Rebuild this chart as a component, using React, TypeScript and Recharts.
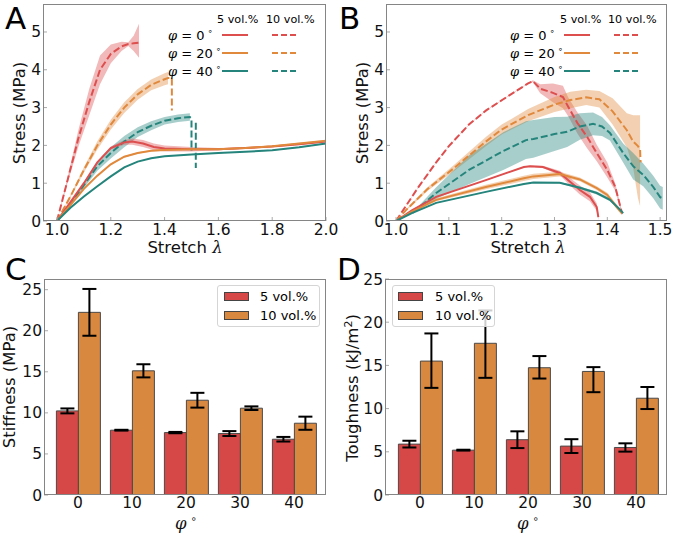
import React from "react";
import {
  ComposedChart,
  Line,
  Area,
  XAxis,
  YAxis,
  BarChart,
  Bar,
  ErrorBar,
} from "recharts";

const W = 673;
const H = 534;
const FONT = "'DejaVu Sans', sans-serif";

const RED = "#dd4f4f";
const ORANGE = "#e0893d";
const TEAL = "#25857c";
const BAR_RED = "#d64848";
const BAR_ORANGE = "#d9883f";

// [stretch, stress, band down, band up (optional)]
type Pt = [number, number | null, number | null, number?];

// panel A
const aRed5: Pt[] = [[1.0, 0, 0], [1.05, 0.5, 0.01], [1.1, 1.0, 0.02], [1.15, 1.55, 0.03], [1.2, 1.93, 0.04], [1.25, 2.08, 0.06], [1.28, 2.1, 0.08], [1.32, 2.05, 0.09], [1.36, 1.96, 0.09], [1.4, 1.92, 0.08], [1.5, 1.9, 0.06], [1.6, 1.9, 0.03], [1.7, 1.93, 0.02], [1.8, 1.97, 0.02], [1.9, 2.03, 0.02], [2.0, 2.1, 0.02]];
const aOrange5: Pt[] = [[1.0, 0, 0], [1.05, 0.42, 0.01], [1.1, 0.85, 0.01], [1.15, 1.2, 0.015], [1.2, 1.5, 0.02], [1.25, 1.7, 0.02], [1.3, 1.8, 0.02], [1.35, 1.86, 0.02], [1.4, 1.88, 0.02], [1.5, 1.9, 0.02], [1.6, 1.9, 0.02], [1.7, 1.93, 0.02], [1.8, 1.98, 0.02], [1.9, 2.05, 0.02], [2.0, 2.12, 0.02]];
const aTeal5: Pt[] = [[1.0, 0, 0], [1.05, 0.35, 0.01], [1.1, 0.65, 0.01], [1.15, 0.92, 0.01], [1.2, 1.18, 0.01], [1.25, 1.42, 0.01], [1.3, 1.57, 0.01], [1.35, 1.66, 0.01], [1.4, 1.71, 0.01], [1.5, 1.76, 0.01], [1.6, 1.8, 0.01], [1.7, 1.83, 0.01], [1.8, 1.87, 0.01], [1.9, 1.95, 0.01], [2.0, 2.05, 0.01]];
const aRed10: Pt[] = [[1.0, 0, 0], [1.04, 1.1, 0.08], [1.08, 2.2, 0.22], [1.12, 3.15, 0.35], [1.16, 4.0, 0.38], [1.2, 4.42, 0.25], [1.24, 4.62, 0.12], [1.265, 4.68, 0.05], [1.285, 4.7, 0.2], [1.305, 4.72, 0.4, 0.5]];
const aOrange10: Pt[] = [[1.0, 0, 0], [1.05, 0.65, 0.03], [1.1, 1.35, 0.07], [1.15, 2.0, 0.11], [1.2, 2.55, 0.13], [1.25, 3.0, 0.14], [1.3, 3.35, 0.14], [1.35, 3.6, 0.14], [1.4, 3.75, 0.16], [1.413, 3.78, 0.16], [1.427, 3.78, null], [1.427, 2.92, null]];
const aTeal10: Pt[] = [[1.0, 0, 0], [1.05, 0.45, 0.04], [1.1, 0.95, 0.08], [1.15, 1.45, 0.12], [1.2, 1.8, 0.15], [1.25, 2.1, 0.15], [1.3, 2.35, 0.13], [1.35, 2.52, 0.12], [1.4, 2.65, 0.1], [1.45, 2.72, 0.1], [1.494, 2.75, 0.1], [1.5, 2.72, null], [1.5, 1.85, null], [1.508, null, null], [1.516, 2.6, null], [1.516, 1.4, null]];

// panel B
const bRed5: Pt[] = [[1.0, 0, 0], [1.03, 0.28, 0.01], [1.076, 0.64, 0.01], [1.17, 1.08, 0.01], [1.242, 1.43, 0.01], [1.254, 1.45, 0.02], [1.278, 1.43, 0.03], [1.31, 1.27, 0.06], [1.33, 1.03, 0.1], [1.348, 0.82, 0.12], [1.367, 0.64, 0.12], [1.38, 0.37, 0.1], [1.383, 0.1, 0.08]];
const bOrange5: Pt[] = [[1.0, 0, 0], [1.03, 0.25, 0.02], [1.076, 0.56, 0.04], [1.17, 0.9, 0.06], [1.242, 1.13, 0.07], [1.26, 1.18, 0.07], [1.31, 1.24, 0.06], [1.348, 1.1, 0.05], [1.38, 0.87, 0.05], [1.4, 0.69, 0.06], [1.418, 0.37, 0.06], [1.428, 0.2, 0.05]];
const bTeal5: Pt[] = [[1.0, 0, 0], [1.03, 0.21, 0.01], [1.076, 0.48, 0.01], [1.17, 0.77, 0.01], [1.242, 0.98, 0.01], [1.26, 1.02, 0.01], [1.31, 1.01, 0.02], [1.348, 0.88, 0.03], [1.38, 0.74, 0.04], [1.405, 0.56, 0.04], [1.424, 0.3, 0.03], [1.43, 0.21, 0.02]];
const bRed10: Pt[] = [[1.0, 0, 0], [1.04, 0.85, 0.01], [1.076, 1.55, 0.01], [1.1, 1.98, 0.01], [1.138, 2.55, 0.01], [1.17, 2.92, 0.01], [1.203, 3.22, 0.01], [1.23, 3.46, 0.01], [1.25, 3.64, 0.01], [1.259, 3.7, 0.02], [1.273, 3.5, 0.12], [1.297, 3.39, 0.25], [1.316, 3.28, 0.3], [1.326, 3.02, 0.25], [1.343, 2.6, 0.28], [1.362, 2.22, 0.3], [1.38, 1.8, 0.22], [1.4, 1.35, 0.2], [1.415, 0.9, 0.1], [1.428, 0.2, 0.05]];
const bOrange10: Pt[] = [[1.0, 0, 0], [1.019, 0.29, 0.02], [1.06, 0.85, 0.05], [1.108, 1.38, 0.08], [1.17, 2.1, 0.12], [1.2, 2.42, 0.13], [1.25, 2.8, 0.16], [1.3, 3.08, 0.2], [1.33, 3.2, 0.22], [1.36, 3.27, 0.2], [1.385, 3.22, 0.22], [1.41, 2.9, 0.35], [1.437, 2.4, 0.45], [1.449, 2.1, 0.7], [1.458, 1.98, 1.38, 0.82], [1.462, 1.9, 1.5, 0.9], [1.463, 1.55, null]];
const bTeal10: Pt[] = [[1.032, 0.22, 0.02], [1.076, 0.74, 0.15], [1.138, 1.35, 0.38], [1.203, 1.85, 0.5], [1.246, 2.14, 0.5], [1.26, 2.17, 0.5], [1.3, 2.3, 0.45], [1.324, 2.36, 0.4], [1.348, 2.5, 0.35], [1.373, 2.57, 0.3], [1.39, 2.5, 0.25], [1.405, 2.33, 0.2], [1.43, 1.8, 0.25], [1.449, 1.45, 0.35], [1.468, 1.22, 0.3], [1.487, 0.9, 0.3], [1.5, 0.63, 0.3], [1.505, 0.6, 0.3]];

// panels C, D
const phiCats = ["0", "10", "20", "30", "40"];
const stiff5 = [10.24, 7.89, 7.6, 7.48, 6.79];
const stiff5Err = [0.3, 0.05, 0.08, 0.3, 0.28];
const stiff10 = [22.24, 15.12, 11.54, 10.57, 8.74];
const stiff10Err = [2.85, 0.8, 0.9, 0.22, 0.8];
const tough5 = [5.89, 5.19, 6.4, 5.66, 5.5];
const tough5Err = [0.39, 0.05, 0.97, 0.8, 0.48];
const tough10 = [15.5, 17.56, 14.73, 14.3, 11.2];
const tough10Err: [number, number][] = [[3.1, 3.2], [4.0, 3.8], [1.25, 1.35], [2.4, 0.5], [1.25, 1.3]];

const toLine = (pts: Pt[]) => pts.map(([x, y]) => ({ x, y }));
const toBand = (pts: Pt[]) =>
  pts
    .filter((p) => p[1] != null && p[2] != null)
    .map(([x, y, lo, hi]) => ({ x, band: [(y as number) - (lo as number), (y as number) + (hi ?? (lo as number))] }));

const tickStyle = { fill: "#111", fontSize: 15.5, fontFamily: FONT };
const tickLine = { stroke: "#aaa" };

type Series = { pts: Pt[]; color: string; dashed?: boolean };

const seriesA: Series[] = [
  { pts: aRed10, color: RED, dashed: true },
  { pts: aOrange10, color: ORANGE, dashed: true },
  { pts: aTeal10, color: TEAL, dashed: true },
  { pts: aRed5, color: RED },
  { pts: aOrange5, color: ORANGE },
  { pts: aTeal5, color: TEAL },
];
const seriesB: Series[] = [
  { pts: bRed10, color: RED, dashed: true },
  { pts: bOrange10, color: ORANGE, dashed: true },
  { pts: bTeal10, color: TEAL, dashed: true },
  { pts: bRed5, color: RED },
  { pts: bOrange5, color: ORANGE },
  { pts: bTeal5, color: TEAL },
];

const Txt = ({ x, y, size = 16.5, rotate = false, children }: any) => (
  <div
    style={{
      position: "absolute",
      left: x,
      top: y,
      transform: `translate(-50%, -50%)${rotate ? " rotate(-90deg)" : ""}`,
      fontSize: size,
      fontFamily: FONT,
      whiteSpace: "nowrap",
      lineHeight: 1,
      color: "#111",
    }}
  >
    {children}
  </div>
);

const Frame = ({ box }: { box: number[] }) => (
  <div
    style={{
      position: "absolute",
      left: box[0],
      top: box[1],
      width: box[2] - box[0],
      height: box[3] - box[1],
      border: "1px solid #858585",
      boxSizing: "border-box",
      pointerEvents: "none",
    }}
  />
);

// axes need a size of at least 1px to be drawn, so the margins give that 1px back
const marginFor = (box: number[]) => ({ left: box[0] - 1, top: box[1], right: W - box[2], bottom: H - box[3] - 1 });

const StressChart = ({ series, box, xDomain, xTicks }: any) => (
  <div style={{ position: "absolute", left: 0, top: 0 }}>
    <ComposedChart width={W} height={H} margin={marginFor(box)}>
      <XAxis
        type="number"
        dataKey="x"
        domain={xDomain}
        ticks={xTicks}
        allowDataOverflow
        interval={0}
        height={1}
        tickSize={-4}
        tickMargin={7}
        axisLine={false}
        tickLine={tickLine}
        tick={tickStyle}
        tickFormatter={(v: number) => v.toFixed(1)}
      />
      <YAxis
        type="number"
        domain={[0, 5.74]}
        ticks={[0, 1, 2, 3, 4, 5]}
        allowDataOverflow
        interval={0}
        width={1}
        tickSize={-4}
        tickMargin={6}
        axisLine={false}
        tickLine={tickLine}
        tick={tickStyle}
      />
      {series.map((s: Series, i: number) => (
        <Area
          key={"b" + i}
          data={toBand(s.pts)}
          dataKey="band"
          stroke="none"
          fill={s.color}
          fillOpacity={0.4}
          isAnimationActive={false}
        />
      ))}
      {series.map((s: Series, i: number) => (
        <Line
          key={"l" + i}
          data={toLine(s.pts)}
          dataKey="y"
          stroke={s.color}
          strokeWidth={2}
          strokeDasharray={s.dashed ? "7 3" : undefined}
          dot={false}
          activeDot={false}
          isAnimationActive={false}
        />
      ))}
    </ComposedChart>
  </div>
);

const LineLegend = ({ labelX, solidX, dashX, head5X, head10X }: any) => {
  const rows = [
    { phi: "0", color: RED, y: 35 },
    { phi: "20", color: ORANGE, y: 53 },
    { phi: "40", color: TEAL, y: 71 },
  ];
  return (
    <>
      <div style={{ position: "absolute", left: head5X, top: 13, fontSize: 11.2, fontFamily: FONT }}>5 vol.%</div>
      <div style={{ position: "absolute", left: head10X, top: 13, fontSize: 11.2, fontFamily: FONT }}>10 vol.%</div>
      {rows.map((r) => (
        <React.Fragment key={r.phi}>
          <div style={{ position: "absolute", left: labelX, top: r.y - 9, fontSize: 13, fontFamily: FONT, whiteSpace: "nowrap" }}>
            <i style={{ fontFamily: "'DejaVu Serif', serif" }}>φ</i> = {r.phi}
            <span style={{ fontSize: 8.5, verticalAlign: "6px", marginLeft: 3 }}>∘</span>
          </div>
          <svg style={{ position: "absolute", left: solidX, top: r.y - 2 }} width={26} height={4}>
            <line x1={0} y1={2} x2={26} y2={2} stroke={r.color} strokeWidth={2} />
          </svg>
          <svg style={{ position: "absolute", left: dashX, top: r.y - 2 }} width={24} height={4}>
            <line x1={0} y1={2} x2={24} y2={2} stroke={r.color} strokeWidth={2} strokeDasharray="6 3" />
          </svg>
        </React.Fragment>
      ))}
    </>
  );
};

const BarLegend = ({ left, patchX, textX }: any) => (
  <div
    style={{
      position: "absolute",
      left,
      top: 285,
      width: 103,
      height: 42,
      border: "1px solid #d5d5d5",
      borderRadius: 3,
      background: "rgba(255,255,255,0.8)",
      boxSizing: "border-box",
    }}
  >
    {[
      { name: "5 vol.%", color: BAR_RED, y: 11 },
      { name: "10 vol.%", color: BAR_ORANGE, y: 30 },
    ].map((r) => (
      <React.Fragment key={r.name}>
        <div
          style={{
            position: "absolute",
            left: patchX - left,
            top: r.y - 5,
            width: 25,
            height: 9,
            background: r.color,
            border: "1px solid #444",
            boxSizing: "border-box",
          }}
        />
        <div style={{ position: "absolute", left: textX - left, top: r.y - 8, fontSize: 13, fontFamily: FONT, lineHeight: "15px" }}>
          {r.name}
        </div>
      </React.Fragment>
    ))}
  </div>
);

const stiffData = phiCats.map((c, i) => ({ phi: c, v5: stiff5[i], e5: stiff5Err[i], v10: stiff10[i], e10: stiff10Err[i] }));
const toughData = phiCats.map((c, i) => ({ phi: c, v5: tough5[i], e5: tough5Err[i], v10: tough10[i], e10: tough10Err[i] }));

const BarPanel = ({ data, box, yMax, pad }: any) => (
  <div style={{ position: "absolute", left: 0, top: 0 }}>
    <BarChart width={W} height={H} data={data} margin={marginFor(box)} barCategoryGap="10%" barGap={0}>
      <XAxis dataKey="phi" height={1} padding={pad} interval={0} tickSize={0} tickMargin={2} axisLine={false} tickLine={false} tick={tickStyle} />
      <YAxis
        type="number"
        domain={[0, yMax]}
        ticks={[0, 5, 10, 15, 20, 25]}
        allowDataOverflow
        interval={0}
        width={1}
        tickSize={-4}
        tickMargin={6}
        axisLine={false}
        tickLine={tickLine}
        tick={tickStyle}
      />
      <Bar dataKey="v5" fill={BAR_RED} stroke="#4a4a4a" strokeWidth={1} isAnimationActive={false}>
        <ErrorBar dataKey="e5" width={7} stroke="#000" strokeWidth={2} />
      </Bar>
      <Bar dataKey="v10" fill={BAR_ORANGE} stroke="#4a4a4a" strokeWidth={1} isAnimationActive={false}>
        <ErrorBar dataKey="e10" width={7} stroke="#000" strokeWidth={2} />
      </Bar>
    </BarChart>
  </div>
);

const boxA = [43, 4, 326, 221];
const boxB = [386, 4, 667, 221];
const boxC = [44, 279, 326, 495];
const boxD = [385, 279, 667, 495];

const Letter = ({ x, y, children }: any) => (
  <div style={{ position: "absolute", left: x, top: y, fontSize: 31, fontFamily: FONT, lineHeight: "30px" }}>{children}</div>
);

export default function App() {
  return (
    <div style={{ position: "absolute", left: 0, top: 0, width: W, height: H, background: "#fff", overflow: "hidden" }}>
      <StressChart series={seriesA} box={boxA} xDomain={[0.948, 2.0]} xTicks={[1.0, 1.2, 1.4, 1.6, 1.8, 2.0]} />
      <StressChart series={seriesB} box={boxB} xDomain={[0.981, 1.513]} xTicks={[1.0, 1.1, 1.2, 1.3, 1.4, 1.5]} />
      <BarPanel data={stiffData} box={boxC} yMax={26.3} pad={{ left: 7, right: 5 }} />
      <BarPanel data={toughData} box={boxD} yMax={25} pad={{ left: 8, right: 4 }} />

      <Frame box={boxA} />
      <Frame box={boxB} />
      <Frame box={boxC} />
      <Frame box={boxD} />

      <LineLegend labelX={168} solidX={222} dashX={272} head5X={217} head10X={266} />
      <LineLegend labelX={510} solidX={564} dashX={614} head5X={560} head10X={608} />
      <BarLegend left={217} patchX={223} textX={259} />
      <BarLegend left={392} patchX={397} textX={434} />

      <Letter x={5} y={3}>A</Letter>
      <Letter x={339} y={3}>B</Letter>
      <Letter x={5} y={254}>C</Letter>
      <Letter x={337} y={254}>D</Letter>

      <Txt x={20} y={113} rotate>Stress (MPa)</Txt>
      <Txt x={185} y={248}>
        Stretch <i style={{ fontFamily: "'DejaVu Serif', serif" }}>λ</i>
      </Txt>
      <Txt x={363} y={113} rotate>Stress (MPa)</Txt>
      <Txt x={528} y={248}>
        Stretch <i style={{ fontFamily: "'DejaVu Serif', serif" }}>λ</i>
      </Txt>
      <Txt x={10} y={387} rotate>Stiffness (MPa)</Txt>
      <Txt x={186} y={523}>
        <i style={{ fontFamily: "'DejaVu Serif', serif" }}>φ</i>
        <span style={{ fontSize: 10, verticalAlign: "7px", marginLeft: 4 }}>∘</span>
      </Txt>
      <Txt x={352} y={388} rotate>
        Toughness (kJ/m<sup style={{ fontSize: 11 }}>2</sup>)
      </Txt>
      <Txt x={528} y={523}>
        <i style={{ fontFamily: "'DejaVu Serif', serif" }}>φ</i>
        <span style={{ fontSize: 10, verticalAlign: "7px", marginLeft: 4 }}>∘</span>
      </Txt>
    </div>
  );
}
